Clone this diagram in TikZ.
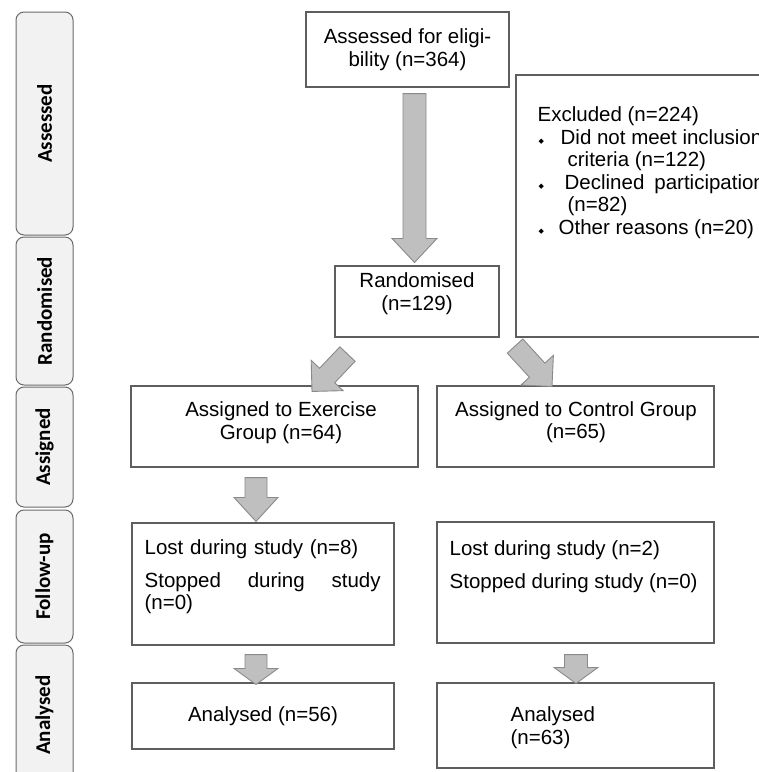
\documentclass[tikz,border=0pt]{standalone}
\usepackage{fontspec}
\setmainfont{Liberation Sans}
\newfontfamily\labelfont{Carlito}
\newfontfamily\symfont{DejaVu Sans}
\usetikzlibrary{calc}
\definecolor{boxedge}{HTML}{5E5E5E}
\definecolor{arrfill}{HTML}{BFBFBF}
\definecolor{arredge}{HTML}{8A8A8A}
\definecolor{stagefill}{HTML}{F2F2F2}
\definecolor{stageedge}{HTML}{6B6B6B}
\newcommand{\mainsize}{\fontsize{20.5}{22.6}\selectfont}
\newcommand{\exbul}{{\symfont\fontsize{7}{7}\selectfont\raisebox{1pt}{◆}}}
% block arrow: from, to, shaft half width, head half width, head length
\newcommand{\blockarrow}[5]{%
  \draw[blockarr] ($(#1)!#3pt!90:(#2)$) -- ($(#2)!#5pt!(#1)!#3pt!-90:(#1)$)
    -- ($(#2)!#5pt!(#1)!#4pt!-90:(#1)$) -- (#2)
    -- ($(#2)!#5pt!(#1)!#4pt!90:(#1)$) -- ($(#2)!#5pt!(#1)!#3pt!90:(#1)$)
    -- ($(#1)!#3pt!-90:(#2)$) -- cycle;}

\begin{document}
\begin{tikzpicture}[
  x=1pt, y=-1pt,
  box/.style={draw=boxedge, line width=1.1pt, fill=white, inner sep=0pt,
    font=\mainsize, align=center},
  txt/.style={inner sep=0pt, font=\mainsize},
  stage/.style={draw=stageedge, line width=1pt, fill=stagefill,
    rounded corners=8pt, rotate=90, minimum height=57pt, inner sep=0pt,
    font=\labelfont\bfseries\fontsize{21}{21}\selectfont},
  blockarr/.style={draw=arredge, fill=arrfill, line width=0.9pt, line join=miter},
]

\useasboundingbox (0,0) rectangle (759,772);
\fill[white] (0,0) rectangle (759,772);
\clip (0,0) rectangle (759,772);

% Stage labels
\node[stage, minimum width=223pt] (sassess) at (44.5,123.5) {Assessed};
\node[stage, minimum width=148pt] (srand) at (44.5,311) {Randomised};
\node[stage, minimum width=120pt] (sassign) at (44.5,447) {Assigned};
\node[stage, minimum width=133pt] (sfollow) at (44.5,576.5) {Follow-up};
\node[stage, minimum width=140pt] (sanalyse) at (44.5,715) {Analysed};

% Enrolment
\node[box, minimum width=203pt, minimum height=75pt] (elig) at (407.5,49.5)
  {Assessed for eligi-\\bility (n=364)};

\node[box, minimum width=274pt, minimum height=262pt] (excl) at (653,206) {};
\node[txt, anchor=north west, align=left] (excltxt) at ($(excl.north west)+(22,32)$)
  {Excluded (n=224)\\
   \makebox[23pt][l]{\hspace*{1pt}\exbul}Did not meet inclusion\\
   \hspace*{30pt}criteria (n=122)\\
   \makebox[27pt][l]{\hspace*{1pt}\exbul}Declined\hspace{10pt}participation\\
   \hspace*{30pt}(n=82)\\
   \makebox[21pt][l]{\hspace*{1pt}\exbul}Other reasons (n=20)};

\node[box, minimum width=164pt, minimum height=71pt] (rand) at (417,301.5) {};
\node[txt, align=center] (randtxt) at ($(rand)+(0,-8)$) {Randomised\\(n=129)};

% Allocation
\node[box, minimum width=287pt, minimum height=81pt] (asgex) at (274.5,426.5) {};
\node[txt, align=center] (asgextxt) at ($(asgex)+(6.5,-4)$)
  {Assigned to Exercise\\Group (n=64)};

\node[box, minimum width=277pt, minimum height=81pt] (asgct) at (575.5,426.5) {};
\node[txt, align=center] (asgcttxt) at ($(asgct)+(0.5,-4.5)$)
  {Assigned to Control Group\\(n=65)};

% Follow-up
\node[box, minimum width=262pt, minimum height=122pt] (lostex) at (263,584) {};
\node[txt, anchor=north west, text width=236pt, align=left] (lostextxt)
  at ($(lostex.north west)+(13,17)$)
  {Lost during study (n=8)\\[10pt]
   \makebox[236pt][l]{Stopped\hfill during\hfill study}\\
   (n=0)};

\node[box, minimum width=277pt, minimum height=121pt] (lostct) at (575.5,582.5) {};
\node[txt, anchor=north west, align=left] (lostcttxt)
  at ($(lostct.north west)+(13,19)$)
  {Lost during study (n=2)\\[10pt]Stopped during study (n=0)};

% Analysis
\node[box, minimum width=262pt, minimum height=66pt] (anaex) at (263,716)
  {Analysed (n=56)};

\node[box, minimum width=277pt, minimum height=85pt] (anact) at (575.5,725.5) {};
\node[txt, anchor=west, align=left] (anacttxt) at ($(anact.west)+(74,2)$)
  {Analysed\\(n=63)};

% Arrow end points
\coordinate (a1s) at ($(elig.south)+(7,6)$);
\coordinate (a1e) at ($(rand.north)+(-2.5,-3)$);
\coordinate (a2s) at ($(rand.south)+(-69.5,16.5)$);
\coordinate (a2e) at ($(asgex.north)+(37.5,6)$);
\coordinate (a3s) at ($(rand.south east)+(15.5,8.5)$);
\coordinate (a3e) at ($(asgct.north)+(-23.5,1)$);
\coordinate (a4s) at ($(asgex.south)+(-18.5,10)$);
\coordinate (a4e) at ($(lostex.north)+(-7,-1)$);
\coordinate (a5s) at ($(lostex.south)+(-7,9)$);
\coordinate (a5e) at ($(anaex.north)+(-7,2)$);
\coordinate (a6s) at ($(lostct.south)+(0.5,11)$);
\coordinate (a6e) at ($(anact.north)+(0.5,1)$);

% Block arrows
\blockarrow{a1s}{a1e}{11.5}{22.5}{24}
\blockarrow{a2s}{a2e}{10.5}{22}{22}
\blockarrow{a3s}{a3e}{10.5}{22}{22}
\blockarrow{a4s}{a4e}{11}{22}{24}
\blockarrow{a5s}{a5e}{11}{22}{16}
\blockarrow{a6s}{a6e}{11.5}{22}{16}

\end{tikzpicture}
\end{document}
